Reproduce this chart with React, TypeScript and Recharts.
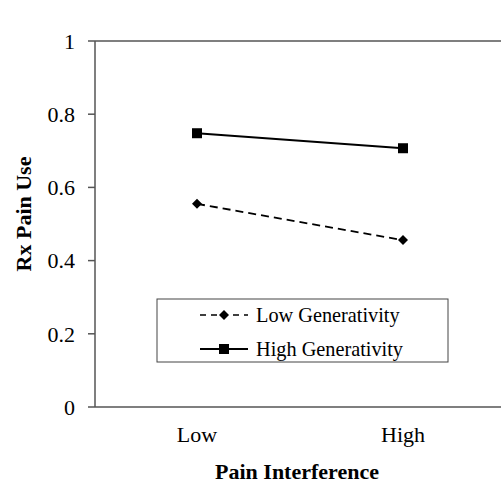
import React from 'react';
import { LineChart, Line, XAxis, YAxis, ReferenceLine, Customized } from 'recharts';

const categories = ['Low', 'High'];
const lowGenerativity = [0.555, 0.456];
const highGenerativity = [0.748, 0.707];
const yTicks = [0, 0.2, 0.4, 0.6, 0.8, 1];
const seriesNames = ['Low Generativity', 'High Generativity'];

const data = categories.map((c, i) => ({
  name: c,
  low: lowGenerativity[i],
  high: highGenerativity[i],
}));

const FONT = '"Liberation Serif", "Times New Roman", serif';
const AXIS = '#555';

const Diamond = (props: any) => {
  const { cx, cy } = props;
  if (cx == null || cy == null) return null;
  const r = 5;
  return <path d={`M${cx},${cy - r}L${cx + r},${cy}L${cx},${cy + r}L${cx - r},${cy}Z`} fill="#000" />;
};

const Square = (props: any) => {
  const { cx, cy } = props;
  if (cx == null || cy == null) return null;
  const r = 5;
  return <rect x={cx - r} y={cy - r} width={2 * r} height={2 * r} fill="#000" />;
};

const LegendBox = () => {
  const x0 = 157;
  const y0 = 299;
  return (
    <g>
      <rect x={x0} y={y0} width={291} height={63} fill="#fff" stroke="#444" strokeWidth={1} />
      <line x1={x0 + 43} y1={y0 + 16} x2={x0 + 91} y2={y0 + 16} stroke="#000" strokeWidth={1.5} strokeDasharray="6 5" />
      <Diamond cx={x0 + 67} cy={y0 + 16} />
      <line x1={x0 + 43} y1={y0 + 50} x2={x0 + 91} y2={y0 + 50} stroke="#000" strokeWidth={1.8} />
      <Square cx={x0 + 67} cy={y0 + 50} />
      <text x={x0 + 99} y={y0 + 23} fontFamily={FONT} fontSize={20.3} fill="#000">{seriesNames[0]}</text>
      <text x={x0 + 99} y={y0 + 57} fontFamily={FONT} fontSize={20.3} fill="#000">{seriesNames[1]}</text>
    </g>
  );
};

export default function App() {
  return (
    <div style={{ position: 'absolute', left: 0, top: 0, background: '#fff' }}>
      <LineChart
        width={501}
        height={483}
        data={data}
        margin={{ top: 41, right: -4, left: 0, bottom: 0 }}
      >
        <ReferenceLine y={1} stroke={AXIS} strokeWidth={1.5} />
        <XAxis
          dataKey="name"
          height={76}
          padding={{ left: 102, right: 102 }}
          tickLine={false}
          axisLine={{ stroke: AXIS, strokeWidth: 1.5 }}
          tick={{ fontFamily: FONT, fontSize: 22, fill: '#000' }}
          tickMargin={13}
          label={() => (
            <text
              x={297}
              y={479}
              textAnchor="middle"
              fontFamily={FONT}
              fontWeight="bold"
              fontSize={22}
              fill="#000"
            >
              Pain Interference
            </text>
          )}
        />
        <YAxis
          width={95}
          domain={[0, 1]}
          ticks={yTicks}
          interval={0}
          tickSize={7}
          tickMargin={13}
          tickLine={{ stroke: AXIS, strokeWidth: 1.5 }}
          axisLine={{ stroke: AXIS, strokeWidth: 1.5 }}
          tick={{ fontFamily: FONT, fontSize: 22, fill: '#000' }}
          tickFormatter={(v: number) => String(v)}
          label={() => (
            <text
              x={31}
              y={214}
              transform="rotate(-90 31 214)"
              textAnchor="middle"
              fontFamily={FONT}
              fontWeight="bold"
              fontSize={22}
              fill="#000"
            >
              Rx Pain Use
            </text>
          )}
        />
        <Line
          dataKey="low"
          name={seriesNames[0]}
          stroke="#000"
          strokeWidth={1.8}
          strokeDasharray="8 5"
          dot={<Diamond />}
          activeDot={false}
          isAnimationActive={false}
        />
        <Line
          dataKey="high"
          name={seriesNames[1]}
          stroke="#000"
          strokeWidth={1.8}
          dot={<Square />}
          activeDot={false}
          isAnimationActive={false}
        />
        <Customized component={<LegendBox />} />
      </LineChart>
    </div>
  );
}
